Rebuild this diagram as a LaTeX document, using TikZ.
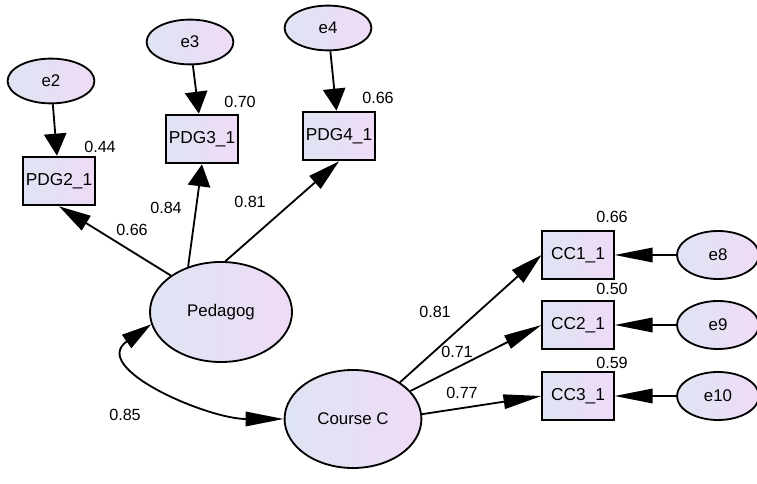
\documentclass[tikz,border=0pt]{standalone}
\usepackage{fontspec}
\setmainfont{Liberation Sans}
\usepackage{tikz}
\usetikzlibrary{shapes.geometric,arrows.meta,positioning}
\definecolor{lavL}{RGB}{222,228,243}
\definecolor{lavR}{RGB}{239,219,246}

\begin{document}
\begin{tikzpicture}[
    x=0.025cm, y=-0.025cm,
    font=\fontsize{11.5}{13}\selectfont,
    latent/.style={ellipse, draw, line width=1.3pt, left color=lavL, right color=lavR, inner sep=0pt, font=\fontsize{12}{14}\selectfont},
    resid/.style={latent, minimum width=2.17cm, minimum height=1.12cm},
    obs/.style={rectangle, draw, line width=1.3pt, left color=lavL, right color=lavR, minimum width=1.78cm, minimum height=1.22cm, inner sep=0pt, font=\fontsize{12.3}{14}\selectfont},
    vert/.style={-{Triangle[length=0.55cm,width=0.56cm]}, line width=1.3pt},
    diag/.style={-{Triangle[length=0.8cm,width=0.42cm]}, line width=1.3pt},
    horiz/.style={-{Triangle[length=0.95cm,width=0.36cm]}, line width=1.3pt},
    lbl/.style={inner sep=0pt}
]
\useasboundingbox (0,0) rectangle (757,484);

% latent variables
\node[latent, minimum width=3.55cm, minimum height=2.5cm] (Ped) at (221,312) {Pedagog};
\node[latent, minimum width=3.42cm, minimum height=2.45cm] (CC) at (353,419) {Course C};

% pedagogy indicators
\node[obs] (PDG2) at (59,181) {PDG2\_1};
\node[obs] (PDG3) at (202,139) {PDG3\_1};
\node[obs] (PDG4) at (339,136) {PDG4\_1};
\node[resid] (e2) at (51,81) {e2};
\node[resid] (e3) at (190,42) {e3};
\node[resid] (e4) at (328,28) {e4};

% course indicators
\node[obs] (CC1) at (578,255) {CC1\_1};
\node[obs] (CC2) at (578,325) {CC2\_1};
\node[obs] (CC3) at (578,396) {CC3\_1};
\node[resid, minimum width=2.05cm, minimum height=1.2cm] (e8) at (718,255) {e8};
\node[resid, minimum width=2.05cm, minimum height=1.2cm] (e9) at (718,325) {e9};
\node[resid, minimum width=2.05cm, minimum height=1.2cm] (e10) at (718,396) {e10};

\draw[vert] (e2) -- (PDG2);
\draw[vert] (e3) -- (PDG3);
\draw[vert] (e4) -- (PDG4);
\draw[diag] (Ped.144) -- (PDG2.south);
\draw[vert] (Ped.126) -- (PDG3.south);
\draw[diag] (Ped.85) -- (PDG4.south);
\draw[diag] (CC.38) -- (CC1.west);
\draw[horiz] (CC.26) -- (CC2.west);
\draw[horiz] (CC.4) -- (CC3.west);
\draw[horiz] (e8) -- (CC1);
\draw[horiz] (e9) -- (CC2);
\draw[horiz] (e10) -- (CC3);
\draw[{Triangle[length=0.75cm,width=0.4cm]}-{Triangle[length=0.95cm,width=0.36cm]}, line width=1.3pt]
    (Ped.190) to[out=215, in=180, looseness=1.2] (CC.west);

% estimates
\node[lbl] (r2) at (100,147) {0.44};
\node[lbl] (r3) at (240,102) {0.70};
\node[lbl] (r4) at (378,98) {0.66};
\node[lbl] (l2) at (132,230) {0.66};
\node[lbl] (l3) at (166,208) {0.84};
\node[lbl] (l4) at (250,202) {0.81};
\node[lbl] (r8) at (612,217) {0.66};
\node[lbl] (r9) at (612,289) {0.50};
\node[lbl] (r10) at (612,363) {0.59};
\node[lbl] (l8) at (435,312) {0.81};
\node[lbl] (l9) at (457,352) {0.71};
\node[lbl] (l10) at (462,393) {0.77};
\node[lbl] (cov) at (125,415) {0.85};
\end{tikzpicture}
\end{document}
